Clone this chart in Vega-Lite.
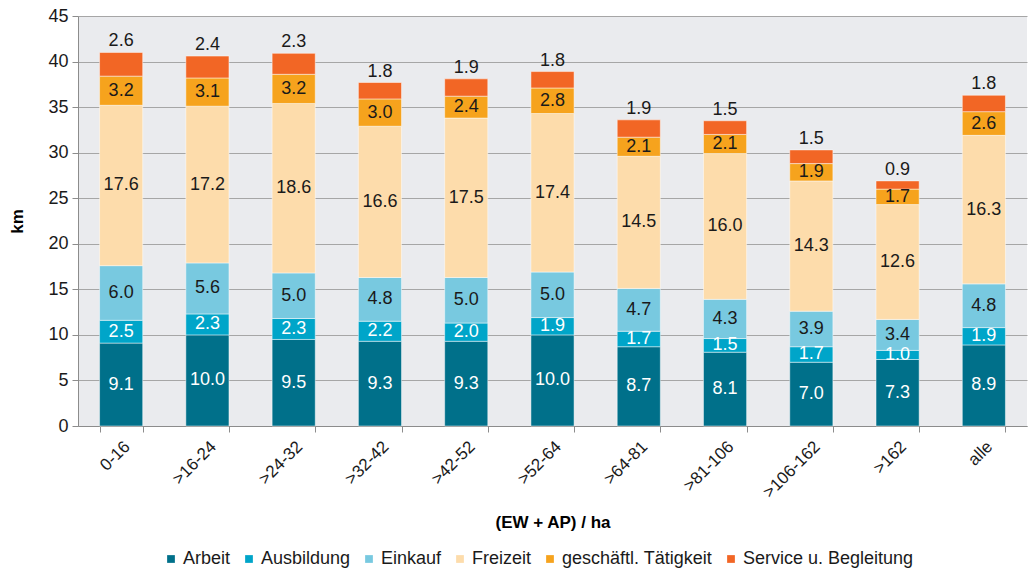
{
  "$schema": "https://vega.github.io/schema/vega-lite/v6.json",
  "width": 949,
  "height": 410,
  "autosize": {"type": "none"},
  "padding": {"left": 78, "top": 16, "right": 2, "bottom": 148},
  "background": "#ffffff",
  "config": {
    "font": "Liberation Sans",
    "view": {"fill": "#EAEBEE", "stroke": null},
    "axis": {"labelFont": "Liberation Sans", "titleFont": "Liberation Sans", "labelColor": "#1a1a1a", "titleColor": "#000000"}
  },
  "data": {
    "values": [
      {"cat": "0-16", "s": "Arbeit", "k": 1, "v": 9.1},
      {"cat": "0-16", "s": "Ausbildung", "k": 2, "v": 2.5},
      {"cat": "0-16", "s": "Einkauf", "k": 3, "v": 6.0},
      {"cat": "0-16", "s": "Freizeit", "k": 4, "v": 17.6},
      {"cat": "0-16", "s": "geschäftl. Tätigkeit", "k": 5, "v": 3.2},
      {"cat": "0-16", "s": "Service u. Begleitung", "k": 6, "v": 2.6},
      {"cat": ">16-24", "s": "Arbeit", "k": 1, "v": 10.0},
      {"cat": ">16-24", "s": "Ausbildung", "k": 2, "v": 2.3},
      {"cat": ">16-24", "s": "Einkauf", "k": 3, "v": 5.6},
      {"cat": ">16-24", "s": "Freizeit", "k": 4, "v": 17.2},
      {"cat": ">16-24", "s": "geschäftl. Tätigkeit", "k": 5, "v": 3.1},
      {"cat": ">16-24", "s": "Service u. Begleitung", "k": 6, "v": 2.4},
      {"cat": ">24-32", "s": "Arbeit", "k": 1, "v": 9.5},
      {"cat": ">24-32", "s": "Ausbildung", "k": 2, "v": 2.3},
      {"cat": ">24-32", "s": "Einkauf", "k": 3, "v": 5.0},
      {"cat": ">24-32", "s": "Freizeit", "k": 4, "v": 18.6},
      {"cat": ">24-32", "s": "geschäftl. Tätigkeit", "k": 5, "v": 3.2},
      {"cat": ">24-32", "s": "Service u. Begleitung", "k": 6, "v": 2.3},
      {"cat": ">32-42", "s": "Arbeit", "k": 1, "v": 9.3},
      {"cat": ">32-42", "s": "Ausbildung", "k": 2, "v": 2.2},
      {"cat": ">32-42", "s": "Einkauf", "k": 3, "v": 4.8},
      {"cat": ">32-42", "s": "Freizeit", "k": 4, "v": 16.6},
      {"cat": ">32-42", "s": "geschäftl. Tätigkeit", "k": 5, "v": 3.0},
      {"cat": ">32-42", "s": "Service u. Begleitung", "k": 6, "v": 1.8},
      {"cat": ">42-52", "s": "Arbeit", "k": 1, "v": 9.3},
      {"cat": ">42-52", "s": "Ausbildung", "k": 2, "v": 2.0},
      {"cat": ">42-52", "s": "Einkauf", "k": 3, "v": 5.0},
      {"cat": ">42-52", "s": "Freizeit", "k": 4, "v": 17.5},
      {"cat": ">42-52", "s": "geschäftl. Tätigkeit", "k": 5, "v": 2.4},
      {"cat": ">42-52", "s": "Service u. Begleitung", "k": 6, "v": 1.9},
      {"cat": ">52-64", "s": "Arbeit", "k": 1, "v": 10.0},
      {"cat": ">52-64", "s": "Ausbildung", "k": 2, "v": 1.9},
      {"cat": ">52-64", "s": "Einkauf", "k": 3, "v": 5.0},
      {"cat": ">52-64", "s": "Freizeit", "k": 4, "v": 17.4},
      {"cat": ">52-64", "s": "geschäftl. Tätigkeit", "k": 5, "v": 2.8},
      {"cat": ">52-64", "s": "Service u. Begleitung", "k": 6, "v": 1.8},
      {"cat": ">64-81", "s": "Arbeit", "k": 1, "v": 8.7},
      {"cat": ">64-81", "s": "Ausbildung", "k": 2, "v": 1.7},
      {"cat": ">64-81", "s": "Einkauf", "k": 3, "v": 4.7},
      {"cat": ">64-81", "s": "Freizeit", "k": 4, "v": 14.5},
      {"cat": ">64-81", "s": "geschäftl. Tätigkeit", "k": 5, "v": 2.1},
      {"cat": ">64-81", "s": "Service u. Begleitung", "k": 6, "v": 1.9},
      {"cat": ">81-106", "s": "Arbeit", "k": 1, "v": 8.1},
      {"cat": ">81-106", "s": "Ausbildung", "k": 2, "v": 1.5},
      {"cat": ">81-106", "s": "Einkauf", "k": 3, "v": 4.3},
      {"cat": ">81-106", "s": "Freizeit", "k": 4, "v": 16.0},
      {"cat": ">81-106", "s": "geschäftl. Tätigkeit", "k": 5, "v": 2.1},
      {"cat": ">81-106", "s": "Service u. Begleitung", "k": 6, "v": 1.5},
      {"cat": ">106-162", "s": "Arbeit", "k": 1, "v": 7.0},
      {"cat": ">106-162", "s": "Ausbildung", "k": 2, "v": 1.7},
      {"cat": ">106-162", "s": "Einkauf", "k": 3, "v": 3.9},
      {"cat": ">106-162", "s": "Freizeit", "k": 4, "v": 14.3},
      {"cat": ">106-162", "s": "geschäftl. Tätigkeit", "k": 5, "v": 1.9},
      {"cat": ">106-162", "s": "Service u. Begleitung", "k": 6, "v": 1.5},
      {"cat": ">162", "s": "Arbeit", "k": 1, "v": 7.3},
      {"cat": ">162", "s": "Ausbildung", "k": 2, "v": 1.0},
      {"cat": ">162", "s": "Einkauf", "k": 3, "v": 3.4},
      {"cat": ">162", "s": "Freizeit", "k": 4, "v": 12.6},
      {"cat": ">162", "s": "geschäftl. Tätigkeit", "k": 5, "v": 1.7},
      {"cat": ">162", "s": "Service u. Begleitung", "k": 6, "v": 0.9},
      {"cat": "alle", "s": "Arbeit", "k": 1, "v": 8.9},
      {"cat": "alle", "s": "Ausbildung", "k": 2, "v": 1.9},
      {"cat": "alle", "s": "Einkauf", "k": 3, "v": 4.8},
      {"cat": "alle", "s": "Freizeit", "k": 4, "v": 16.3},
      {"cat": "alle", "s": "geschäftl. Tätigkeit", "k": 5, "v": 2.6},
      {"cat": "alle", "s": "Service u. Begleitung", "k": 6, "v": 1.8}
    ]
  },
  "transform": [
    {"stack": "v", "groupby": ["cat"], "sort": [{"field": "k", "order": "ascending"}], "as": ["v0", "v1"]},
    {"calculate": "(datum.v0 + datum.v1) / 2", "as": "vmid"}
  ],
  "encoding": {
    "x": {
      "field": "cat", "type": "nominal", "sort": null,
      "scale": {"paddingInner": 0.5, "paddingOuter": 0.25},
      "axis": {
        "title": "(EW + AP) / ha", "titleFontSize": 17, "titleFontWeight": "bold", "titlePadding": 14,
        "labelAngle": -45, "labelFontSize": 17, "labelPadding": 6,
        "domainColor": "#8c8c8c", "tickColor": "#8c8c8c", "tickSize": 6, "tickBand": "extent",
        "grid": false
      }
    }
  },
  "layer": [
    {
      "mark": {"type": "bar", "stroke": "#ffffff", "strokeWidth": 0.8, "strokeOpacity": 0.6},
      "encoding": {
        "y": {
          "field": "v0", "type": "quantitative",
          "scale": {"domain": [0, 45], "nice": false},
          "axis": {
            "title": "km", "titleFontSize": 17, "titleFontWeight": "bold", "titlePadding": 21,
            "values": [0, 5, 10, 15, 20, 25, 30, 35, 40, 45],
            "labelFontSize": 18, "labelPadding": 4,
            "domainColor": "#8c8c8c", "tickColor": "#8c8c8c", "tickSize": 6,
            "gridColor": "#a6a6a6", "gridWidth": 1
          }
        },
        "y2": {"field": "v1"},
        "color": {
          "field": "s", "type": "nominal",
          "scale": {
            "domain": ["Arbeit", "Ausbildung", "Einkauf", "Freizeit", "geschäftl. Tätigkeit", "Service u. Begleitung"],
            "range": ["#00708A", "#00A5C9", "#78C9E0", "#FDDCAB", "#F6A31D", "#F26625"]
          },
          "legend": {
            "title": null, "orient": "none", "direction": "horizontal",
            "legendX": 84, "legendY": 534,
            "symbolType": "square", "symbolSize": 60, "symbolStrokeWidth": 0,
            "labelFontSize": 18, "labelFont": "Liberation Sans", "labelColor": "#1a1a1a", "labelOffset": 3,
            "columnPadding": 9, "labelLimit": 300
          }
        }
      }
    },
    {
      "transform": [{"filter": "datum.k < 6"}],
      "mark": {"type": "text", "fontSize": 18, "baseline": "middle", "align": "center"},
      "encoding": {
        "y": {"field": "vmid", "type": "quantitative"},
        "text": {"field": "v", "type": "quantitative", "format": ".1f"},
        "color": {
          "condition": {"test": "datum.k <= 2", "value": "#ffffff"},
          "value": "#1a1a1a"
        }
      }
    },
    {
      "transform": [{"filter": "datum.k == 6"}],
      "mark": {"type": "text", "fontSize": 18, "baseline": "bottom", "align": "center", "dy": -2, "color": "#1a1a1a"},
      "encoding": {
        "y": {"field": "v1", "type": "quantitative"},
        "text": {"field": "v", "type": "quantitative", "format": ".1f"}
      }
    }
  ]
}
